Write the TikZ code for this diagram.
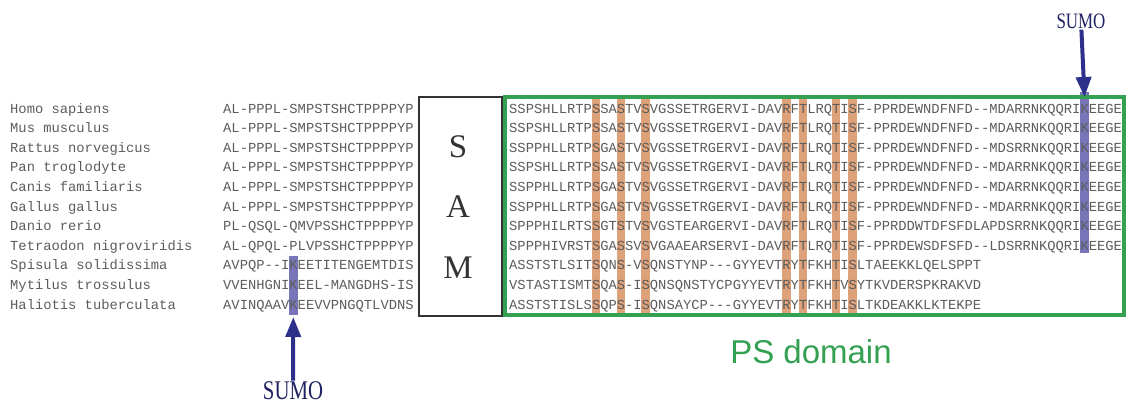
\documentclass[tikz,border=0pt]{standalone}
\usepackage{fontspec}
\setmainfont{Liberation Serif}
\setsansfont{Liberation Sans}
\setmonofont{Liberation Mono}
\newfontfamily\narrowserif[FakeStretch=0.77]{Liberation Serif}
\usetikzlibrary{arrows.meta}

\definecolor{psgreen}{RGB}{52,160,82}
\definecolor{sumoblue}{RGB}{44,48,138}
\definecolor{hlorange}{RGB}{222,162,122}
\definecolor{hlblue}{RGB}{120,118,184}
\definecolor{seqgray}{RGB}{92,92,92}

\begin{document}
\begin{tikzpicture}
    	[x=1pt, y=-1pt,
    	seq/.style={anchor=base west, inner sep=0pt, text=seqgray, font=\ttfamily\fontsize{13.8}{14}\selectfont},
    	hlo/.style={fill=hlorange, draw=none},
    	hlb/.style={fill=hlblue, draw=none},
    	samletter/.style={text=black!80, font=\fontsize{33}{36}\selectfont},
    	sumo/.style={text=sumoblue!70!black, inner sep=1pt},
    	sumoarrow/.style={sumoblue, line width=4pt, -{Triangle[length=20pt, width=15pt]}}]
    	
    	\useasboundingbox (0,0) rectangle (1129,405);
    	
    	% conserved columns
    	\fill[hlo] (591.8,97) rectangle (600.1,314);
    	\fill[hlo] (616.6,97) rectangle (624.9,314);
    	\fill[hlo] (641.4,97) rectangle (649.7,314);
    	\fill[hlo] (782.2,97) rectangle (790.5,314);
    	\fill[hlo] (798.8,97) rectangle (807.0,314);
    	\fill[hlo] (831.9,97) rectangle (840.2,314);
    	\fill[hlo] (848.4,97) rectangle (856.7,314);
    	% sumoylated lysines
    	\fill[hlb] (1080.3,92) rectangle (1088.6,253);
    	\fill[hlb] (289.2,256) rectangle (297.5,315);
    	
    	% species
    	\node[seq] (sp1) at (10,113) {Homo sapiens};
    	\node[seq] (sp2) at (10,132.6) {Mus musculus};
    	\node[seq] (sp3) at (10,152.2) {Rattus norvegicus};
    	\node[seq] (sp4) at (10,171.8) {Pan troglodyte};
    	\node[seq] (sp5) at (10,191.4) {Canis familiaris};
    	\node[seq] (sp6) at (10,211) {Gallus gallus};
    	\node[seq] (sp7) at (10,230.6) {Danio rerio};
    	\node[seq] (sp8) at (10,250.2) {Tetraodon nigroviridis};
    	\node[seq] (sp9) at (10,269.8) {Spisula solidissima};
    	\node[seq] (sp10) at (10,289.4) {Mytilus trossulus};
    	\node[seq] (sp11) at (10,309) {Haliotis tuberculata};
    	
    	% before SAM
    	\node[seq] (pre1) at (223,113) {AL-PPPL-SMPSTSHCTPPPPYP};
    	\node[seq] (pre2) at (223,132.6) {AL-PPPL-SMPSTSHCTPPPPYP};
    	\node[seq] (pre3) at (223,152.2) {AL-PPPL-SMPSTSHCTPPPPYP};
    	\node[seq] (pre4) at (223,171.8) {AL-PPPL-SMPSTSHCTPPPPYP};
    	\node[seq] (pre5) at (223,191.4) {AL-PPPL-SMPSTSHCTPPPPYP};
    	\node[seq] (pre6) at (223,211) {AL-PPPL-SMPSTSHCTPPPPYP};
    	\node[seq] (pre7) at (223,230.6) {PL-QSQL-QMVPSSHCTPPPPYP};
    	\node[seq] (pre8) at (223,250.2) {AL-QPQL-PLVPSSHCTPPPPYP};
    	\node[seq] (pre9) at (223,269.8) {AVPQP--IKEETITENGEMTDIS};
    	\node[seq] (pre10) at (223,289.4) {VVENHGNIKEEL-MANGDHS-IS};
    	\node[seq] (pre11) at (223,309) {AVINQAAVKEEVVPNGQTLVDNS};
    	
    	% SAM
    	\node[draw=black!80, line width=2pt, minimum width=83pt, minimum height=219pt] (sam) at (460.5,206.5) {};
    	\node[samletter] (samS) at (458,147) {S};
    	\node[samletter] (samA) at (458,207) {A};
    	\node[samletter] (samM) at (458,268) {M};
    	
    	% PS domain
    	\node[seq] (ps1) at (509,113) {SSPSHLLRTPSSASTVSVGSSETRGERVI-DAVRFTLRQTISF-PPRDEWNDFNFD--MDARRNKQQRIKEEGE};
    	\node[seq] (ps2) at (509,132.6) {SSPSHLLRTPSSASTVSVGSSETRGERVI-DAVRFTLRQTISF-PPRDEWNDFNFD--MDARRNKQQRIKEEGE};
    	\node[seq] (ps3) at (509,152.2) {SSPPHLLRTPSGASTVSVGSSETRGERVI-DAVRFTLRQTISF-PPRDEWNDFNFD--MDSRRNKQQRIKEEGE};
    	\node[seq] (ps4) at (509,171.8) {SSPSHLLRTPSSASTVSVGSSETRGERVI-DAVRFTLRQTISF-PPRDEWNDFNFD--MDARRNKQQRIKEEGE};
    	\node[seq] (ps5) at (509,191.4) {SSPPHLLRTPSGASTVSVGSSETRGERVI-DAVRFTLRQTISF-PPRDEWNDFNFD--MDARRNKQQRIKEEGE};
    	\node[seq] (ps6) at (509,211) {SSPPHLLRTPSGASTVSVGSSETRGERVI-DAVRFTLRQTISF-PPRDEWNDFNFD--MDARRNKQQRIKEEGE};
    	\node[seq] (ps7) at (509,230.6) {SPPPHILRTSSGTSTVSVGSTEARGERVI-DAVRFTLRQTISF-PPRDDWTDFSFDLAPDSRRNKQQRIKEEGE};
    	\node[seq] (ps8) at (509,250.2) {SPPPHIVRSTSGASSVSVGAAEARSERVI-DAVRFTLRQTISF-PPRDEWSDFSFD--LDSRRNKQQRIKEEGE};
    	\node[seq] (ps9) at (509,269.8) {ASSTSTLSITSQNS-VSQNSTYNP---GYYEVTRYTFKHTISLTAEEKKLQELSPPT};
    	\node[seq] (ps10) at (509,289.4) {VSTASTISMTSQAS-ISQNSQNSTYCPGYYEVTRYTFKHTVSYTKVDERSPKRAKVD};
    	\node[seq] (ps11) at (509,309) {ASSTSTISLSSQPS-ISQNSAYCP---GYYEVTRYTFKHTISLTKDEAKKLKTEKPE};
    	
    	\node[draw=psgreen, line width=3.5pt, minimum width=619pt, minimum height=218pt] (psbox) at (814.5,206) {};
    	\node[text=psgreen, font=\sffamily\fontsize{33}{36}\selectfont] (pslabel) at (811,352) {PS domain};
    	
    	% SUMO sites
    	\coordinate (kTop) at (1084.5,97);
    	\coordinate (kBot) at (293.3,317);
    	\node[sumo, font=\narrowserif\fontsize{22}{24}\selectfont] (sumoT) at (1081,21) {SUMO};
    	\node[sumo, font=\narrowserif\fontsize{27}{30}\selectfont] (sumoB) at (293,391) {SUMO};
    	\draw[sumoarrow] (sumoT) -- (kTop);
    	\draw[sumoarrow] (sumoB) -- (kBot);
    \end{tikzpicture}
\end{document}
